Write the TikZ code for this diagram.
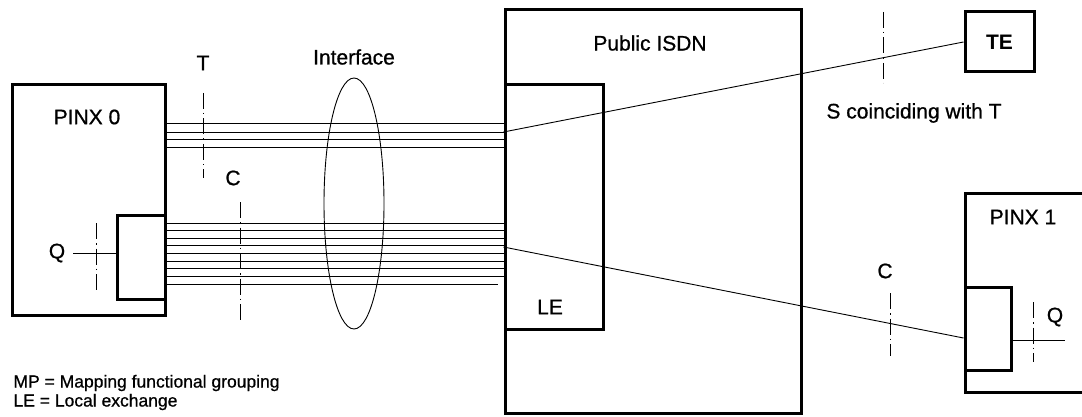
\documentclass[tikz,border=0pt]{standalone}
\usepackage{fontspec}
\setmainfont{Liberation Sans}
\newfontfamily\medfont[FakeBold=0.8]{Liberation Sans}
\usetikzlibrary{positioning,calc,shapes.geometric}

\begin{document}
\begin{tikzpicture}[x=1pt, y=-1pt,
    box/.style={rectangle, draw=black, line width=3pt, inner sep=0pt},
    wire/.style={line width=0.9pt},
    refline/.style={line width=0.8pt, dash pattern=on 16pt off 4pt on 1.5pt off 4pt},
    label/.style={font=\fontsize{21}{24}\medfont},
    legend/.style={font=\fontsize{17.5}{20}\medfont, anchor=west}
]

% Frame
\clip (0,0) rectangle (1082,417);
\fill[white] (0,0) rectangle (1082,417);

% Boxes
\node[box, minimum width=153pt, minimum height=230pt] (pinx0) at (88.5,200) {};
\node[box, minimum width=48pt, minimum height=84pt] (mp0) at (141,257) {};
\node[box, minimum width=296pt, minimum height=403pt] (isdn) at (653,211.5) {};
\node[box, minimum width=98pt, minimum height=244pt] (le) at (554,207) {};
\node[box, minimum width=69pt, minimum height=60pt, font=\fontsize{21}{24}\selectfont\bfseries] (te) at (999.5,42) {TE};
\node[box, minimum width=155pt, minimum height=199pt] (pinx1) at (1042.5,292.5) {};
\node[box, minimum width=46pt, minimum height=83pt] (mp1) at (988,328.5) {};

% Interface
\node[draw=black, line width=0.9pt, ellipse, minimum width=60pt, minimum height=251pt, inner sep=0pt] (iface) at (354,203.5) {};

% Labels
\node[label] (lpinx0) at (87,117) {PINX 0};
\node[label] (liface) at (354,57) {Interface};
\node[label] (lt) at (203,63) {T};
\node[label] (lc0) at (233,178) {C};
\node[label] (lq0) at (57,253) {Q};
\node[label] (lisdn) at (650,43) {Public ISDN};
\node[label] (lle) at (550,307) {LE};
\node[label] (ls) at (914,113) {S coinciding with T};
\node[label] (lpinx1) at (1023,217) {PINX 1};
\node[label] (lc1) at (885,271) {C};
\node[label] (lq1) at (1055,317) {Q};

% Lines between PINX 0 and LE
\foreach \y in {123,132,139,147}
    \draw[wire] (pinx0.east |- 0,\y) -- (le.west |- 0,\y);
\foreach \y in {223,230.6,...,278}
    \draw[wire] (mp0.east |- 0,\y) -- (le.west |- 0,\y);
\draw[wire] (mp0.east |- 0,284) -- (498,284);

% Connections through the public ISDN
\coordinate (le1) at (le.west |- 0,132);
\coordinate (le2) at (le.west |- 0,247);
\coordinate (mp1in) at (mp1.west |- 0,338);
\draw[wire] (le1) -- (te.west);
\draw[wire] (le2) -- (mp1in);

% Q lines
\coordinate (q0) at (73,253);
\coordinate (q1) at (1065,340);
\draw[wire] (q0) -- (mp0.west |- q0);
\draw[wire] (mp1.east |- q1) -- (q1);

% Reference points
\draw[refline] (203,93) -- (203,178);
\draw[refline] (240,202) -- (240,322);
\draw[refline] (96,223) -- (96,290);
\draw[refline] (883,12) -- (883,83);
\draw[refline] (890,293) -- (890,356);
\draw[refline] (1033,302) -- (1033,362);

% Legend
\node[legend] (lmp) at (10,383) {MP = Mapping functional grouping};
\node[legend] (lleg) at (10,402) {LE = Local exchange};

\end{tikzpicture}
\end{document}
